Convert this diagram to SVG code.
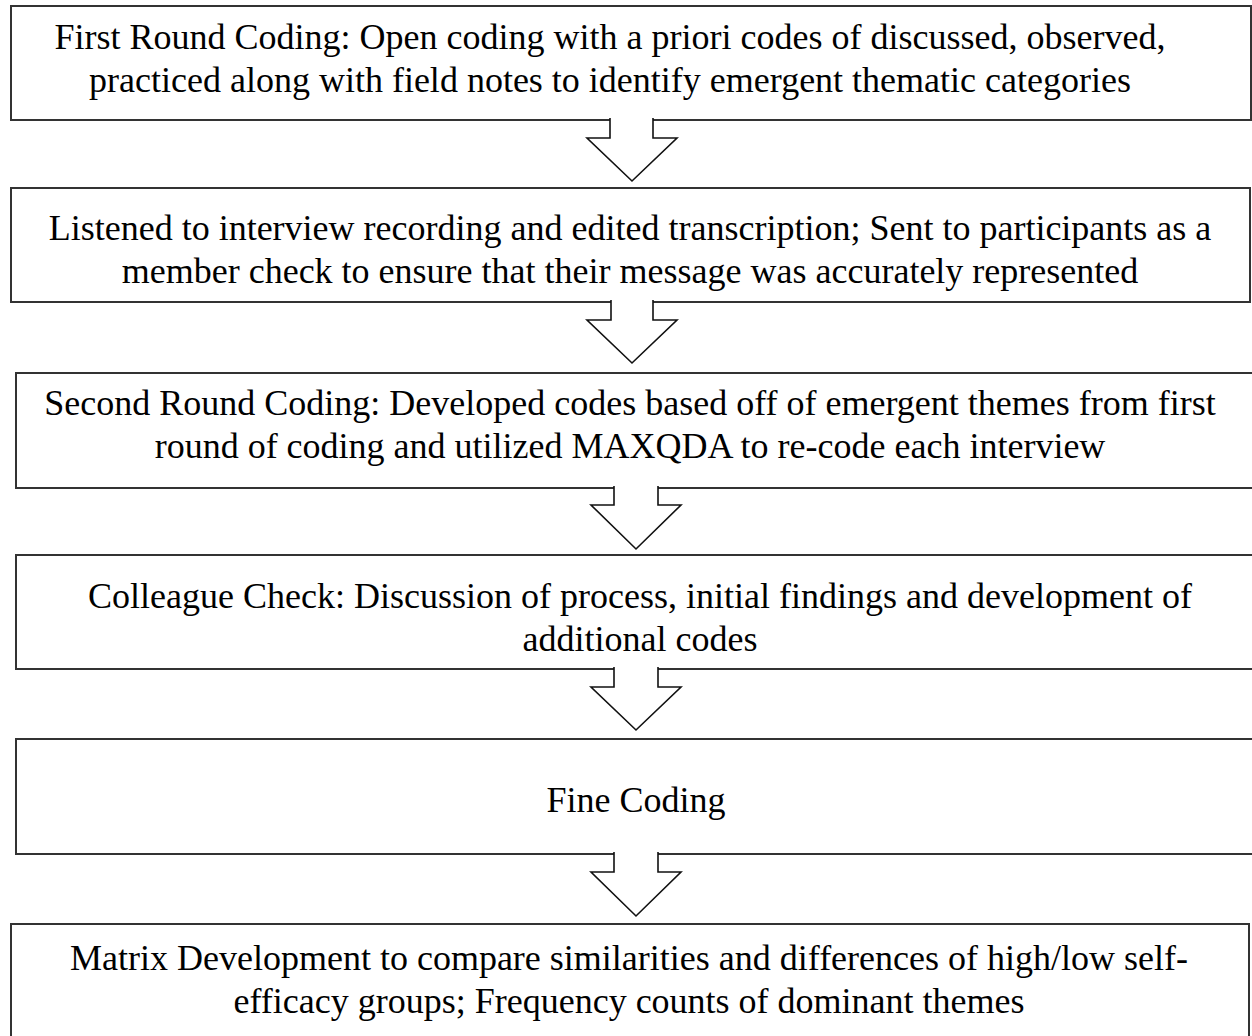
<svg xmlns="http://www.w3.org/2000/svg" width="1252" height="1036" viewBox="0 0 1252 1036">
<style>
.box{fill:#fff;stroke:#333;stroke-width:2}
.arr{fill:#fff;stroke:#111;stroke-width:1.6;stroke-linejoin:miter}
.t{font-family:"Liberation Serif","Times New Roman",serif;font-size:36px;fill:#000;text-anchor:middle}
</style>
<rect width="1252" height="1036" fill="#fff"/>
<g id="n1"><rect class="box" x="11" y="6" width="1240" height="114"/>
<text class="t" x="610" y="49">First Round Coding: Open coding with a priori codes of discussed, observed,</text>
<text class="t" x="610" y="92">practiced along with field notes to identify emergent thematic categories</text></g>
<g id="n2"><rect class="box" x="11" y="188" width="1239" height="114"/>
<text class="t" x="630" y="240">Listened to interview recording and edited transcription; Sent to participants as a</text>
<text class="t" x="630" y="283">member check to ensure that their message was accurately represented</text></g>
<g id="n3"><rect class="box" x="16" y="373" width="1245" height="115"/>
<text class="t" x="630" y="415">Second Round Coding: Developed codes based off of emergent themes from first</text>
<text class="t" x="630" y="458">round of coding and utilized MAXQDA to re-code each interview</text></g>
<g id="n4"><rect class="box" x="16" y="555" width="1245" height="114"/>
<text class="t" x="640" y="608">Colleague Check: Discussion of process, initial findings and development of</text>
<text class="t" x="640" y="651">additional codes</text></g>
<g id="n5"><rect class="box" x="16" y="739" width="1245" height="115"/>
<text class="t" x="636" y="812">Fine Coding</text></g>
<g id="n6"><rect class="box" x="11" y="924" width="1238" height="130"/>
<text class="t" x="629" y="970">Matrix Development to compare similarities and differences of high/low self-</text>
<text class="t" x="629" y="1013">efficacy groups; Frequency counts of dominant themes</text></g>
<g id="connectors">
<path class="arr" d="M610,118 L610,138 L587,138 L632,181 L677,138 L653,138 L653,118"/>
<path class="arr" d="M611,300 L611,320 L587,320 L632,363 L677,320 L653,320 L653,300"/>
<path class="arr" d="M614,486 L614,505 L591,505 L636,549 L681,505 L658,505 L658,486"/>
<path class="arr" d="M614,667 L614,687 L591,687 L636,730 L681,687 L658,687 L658,667"/>
<path class="arr" d="M614,852 L614,872 L591,872 L636,916 L681,872 L658,872 L658,852"/>
</g>
</svg>
